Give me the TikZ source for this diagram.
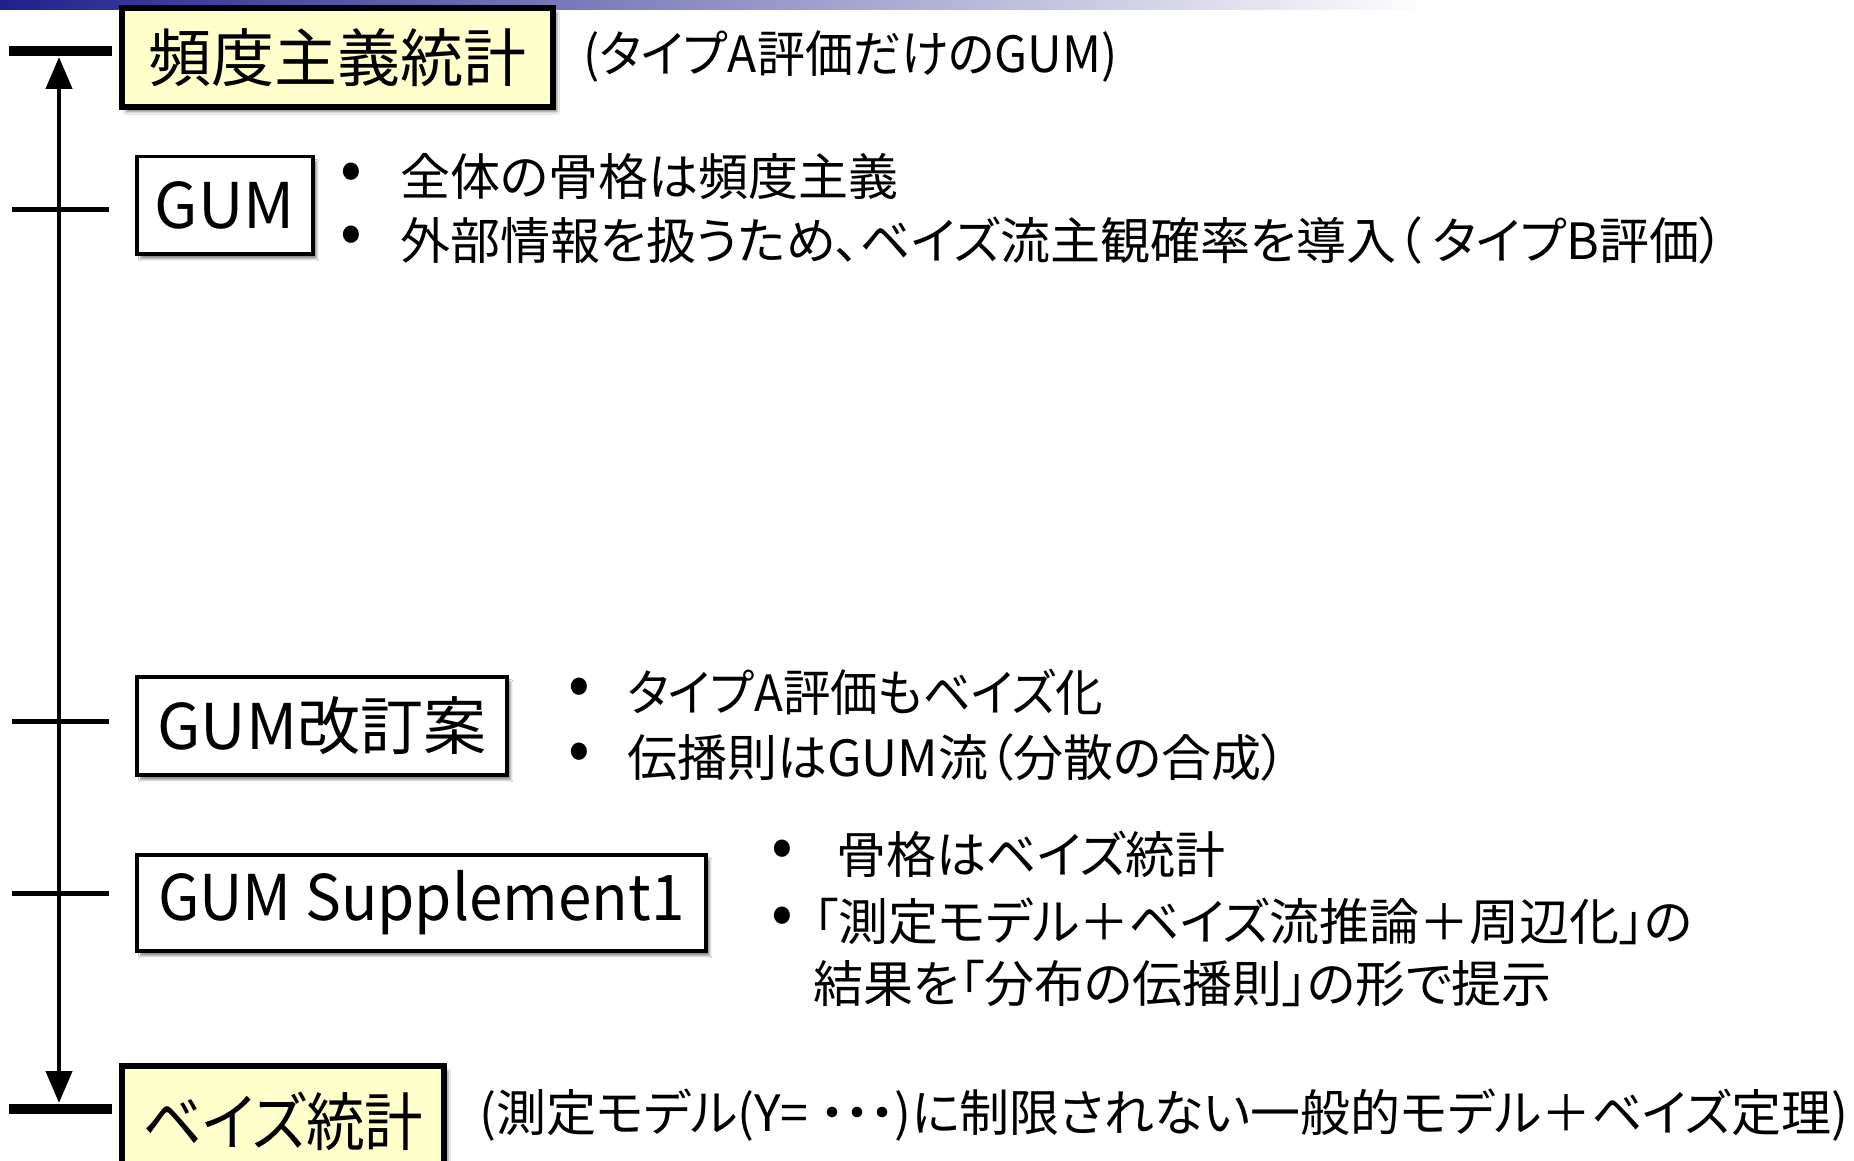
\documentclass[tikz,border=0pt]{standalone}
\usepackage{fontspec}
\setmainfont{Noto Sans CJK JP}
\newfontfamily\jpp[RawFeature=+palt]{Noto Sans CJK JP}
\usetikzlibrary{arrows.meta,shadows.blur,positioning}
\definecolor{boxyellow}{RGB}{255,255,204}
\definecolor{barblue}{RGB}{32,32,140}
\newcommand{\bulletdot}{\makebox[0pt]{•}}
\tikzset{
  base/.style={draw=black, inner sep=0pt, anchor=north west, font=\jpp\fontsize{63}{70}\selectfont,
    blur shadow={shadow xshift=4pt, shadow yshift=-5pt, shadow blur steps=6, shadow opacity=45}},
  yellowbox/.style={base, fill=boxyellow, line width=6pt},
  whitebox/.style={base, fill=white, line width=3.5pt},
  bigtick/.style={line width=10.5pt},
  smalltick/.style={line width=5pt},
  axis/.style={line width=4.5pt, {Triangle[width=26pt,length=32pt]}-{Triangle[width=26pt,length=32pt]}},
  note/.style={anchor=west, inner sep=0pt, font=\jpp\fontsize{50}{58}\selectfont},
  bul/.style={anchor=center, inner sep=0pt, font=\fontsize{64}{72}\selectfont},
}
\begin{document}
\begin{tikzpicture}[x=1pt,y=-1pt]
\useasboundingbox (0,0) rectangle (1854,1161);
\clip (0,0) rectangle (1854,1161);
\fill[white] (0,0) rectangle (1854,1161);
% top gradient bar
\shade[left color=barblue, right color=white] (0,0) rectangle (1430,10);

% tick coordinates
\coordinate (t1l) at (9,51);   \coordinate (t1r) at (112,51);
\coordinate (t2l) at (12,209); \coordinate (t2r) at (109,209);
\coordinate (t3l) at (12,721); \coordinate (t3r) at (109,721);
\coordinate (t4l) at (12,893); \coordinate (t4r) at (109,893);
\coordinate (t5l) at (9,1109); \coordinate (t5r) at (112,1109);
\coordinate (atop) at (59,57);
\coordinate (abot) at (59,1103);

\draw[bigtick] (t1l) -- (t1r);
\draw[smalltick] (t2l) -- (t2r);
\draw[smalltick] (t3l) -- (t3r);
\draw[smalltick] (t4l) -- (t4r);
\draw[bigtick] (t5l) -- (t5r);
\draw[axis] (atop) -- (abot);

% boxes
\node[yellowbox, minimum width=431pt, minimum height=99pt] (freq) at (119,5) {頻度主義統計};
\node[whitebox, minimum width=176pt, minimum height=97pt] (gum) at (135,155) {GUM};
\node[whitebox, minimum width=370pt, minimum height=98pt] (rev) at (135,675) {GUM改訂案};
\node[whitebox, minimum width=569pt, minimum height=96pt] (supp) at (135,853) {\scalebox{0.955}[1]{GUM Supplement1}};
\node[yellowbox, minimum width=322pt, minimum height=110pt] (bayes) at (119,1063) {\scalebox{0.93}[1]{ベイズ統計}};

% annotations
\node[note] (freqnote) at (583,56) {\scalebox{0.96}[1]{(タイプA評価だけのGUM)}};

\node[bul] (b1) at (351,177) {\bulletdot};
\node[note] (g1) at (400,177) {全体の骨格は頻度主義};
\node[bul] (b2) at (351,240) {\bulletdot};
\node[note] (g2) at (400,240) {外部情報を扱うため、ベイズ流主観確率を導入（ タイプB評価）};

\node[bul] (b3) at (579,692) {\bulletdot};
\node[note] (r1) at (627,692) {\scalebox{0.95}[1]{タイプA評価もベイズ化}};
\node[bul] (b4) at (579,757) {\bulletdot};
\node[note] (r2) at (627,757) {伝播則はGUM流（分散の合成）};

\node[bul] (b5) at (782,854) {\bulletdot};
\node[note] (s1) at (836,854) {骨格はベイズ統計};
\node[bul] (b6) at (782,921) {\bulletdot};
\node[note] (s2) at (813,921) {「測定モデル＋ベイズ流推論＋周辺化」の};
\node[note] (s3) at (813,983) {結果を「分布の伝播則」の形で提示};

\node[note] (bayesnote) at (479,1115) {(測定モデル(Y= ・・・)に制限されない一般的モデル＋ベイズ定理)};
\end{tikzpicture}
\end{document}
